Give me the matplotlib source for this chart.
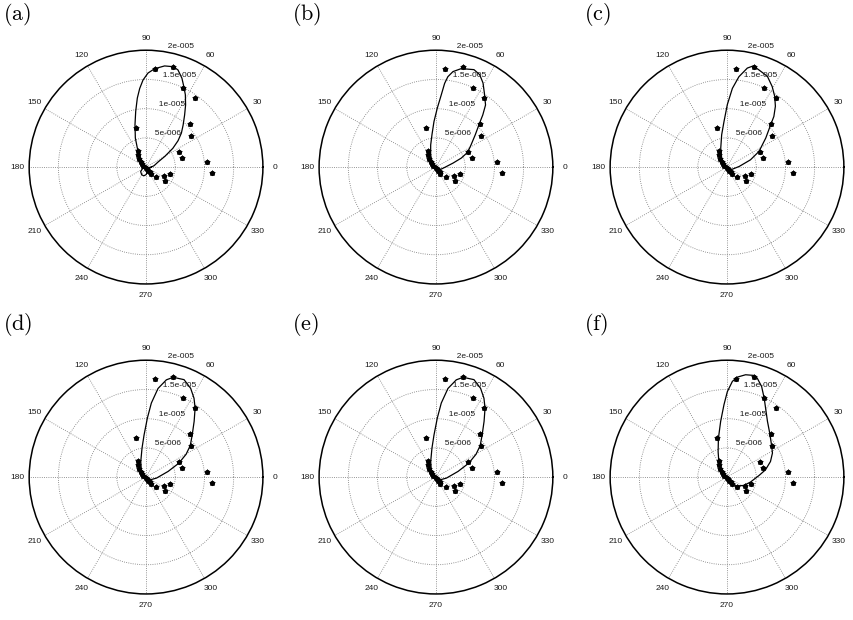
import numpy as np
import matplotlib.pyplot as plt

plt.rcParams['mathtext.fontset'] = 'cm'

# measured points (same in every panel): angle in degrees, radius in units of 1e-6
pts_deg = [84.9, 74.9, 64.6, 54.8, 44.6, 34.6, 24.2, 14.2, 4.4, 354.8, 344.5,
           334.3, 324.3, 314.0, 104.7, 115.1, 123.3, 131.3, 138, 145, 155,
           300, 302, 304, 302, 250]
pts_r = [16.8, 17.8, 14.9, 14.4, 10.5, 9.4, 6.1, 6.3, 10.5, 11.4, 4.3,
         3.4, 4.0, 2.4, 6.95, 3.1, 2.4, 1.9, 1.2, 0.9, 0.55,
         0.4, 0.75, 1.1, 1.45, 0.15]

# model curves
a_deg = [0, 10, 22.6, 29.7, 35, 39.5, 43.9, 48.6, 53.5, 57.5, 61.5, 64.8, 68, 71.8,
         74.8, 79.6, 85, 88.8, 92, 94.6, 97.2, 100.5, 104.6, 110.2, 114.5, 120.7,
         127, 140, 170, 200, 220, 240, 255, 270, 290, 310, 330, 350]
a_r = [0.9, 1.4, 2.2, 3.7, 5.6, 7.1, 8.4, 9.6, 11.1, 12.6, 14.1, 15.2, 16.4, 17.5,
       17.8, 17.6, 16.9, 16.1, 14.9, 13.5, 11.9, 9.7, 7.5, 5.3, 3.6, 2.1,
       0.85, 0.3, 0.1, 0.6, 1.2, 1.5, 1.55, 1.3, 0.8, 0.3, 0.2, 0.5]

b_deg = [-36, -2, 13.2, 19.6, 25.1, 32.3, 39.4, 45, 48.1, 51.4, 56.7, 60.8, 64.7,
         68.7, 75.6, 79.9, 82.5, 84.1, 85.8, 88.7, 92.5, 97, 103.4, 113.4, 125, 153]
b_r = [0.8, 1.5, 3.0, 4.6, 6.0, 7.1, 8.7, 10.5, 12.0, 13.6, 15.1, 16.5, 17.5,
       17.9, 17.4, 16.6, 15.6, 14.4, 12.4, 10.1, 7.8, 5.6, 3.9, 2.3, 1.2, 0.26]

c_deg = [-36, 3.2, 17.2, 26.1, 36.9, 44.1, 47.2, 51.5, 56, 60.7, 66, 71.8, 75.4,
         78.4, 82.5, 86.1, 89.7, 93.8, 99.4, 108.4, 120.7, 142]
c_r = [0.8, 2.1, 4.2, 6.1, 8.3, 10.4, 11.8, 13.3, 14.6, 15.8, 17.0, 17.5, 17.9,
       17.3, 15.6, 13.5, 10.7, 7.8, 5.6, 3.4, 1.8, 0.65]

d_deg = [-51, -5.5, 14.4, 23, 29.7, 35.5, 42.4, 49.2, 54.6, 58.7, 63.3, 68.7, 74.8,
         78.2, 82.3, 85.9, 88.7, 92.7, 97.9, 108.8, 122.5, 150]
d_r = [0.7, 1.8, 3.9, 6.1, 7.9, 9.3, 10.7, 12.6, 14.5, 15.8, 17.0, 17.9, 17.7,
       17.0, 15.3, 12.7, 10.1, 7.2, 5.0, 2.8, 1.5, 0.46]

e_deg = [-51, -5.5, 14.4, 23, 29.7, 35.5, 42.4, 49.2, 54.6, 58.7, 63.3, 68.7, 74.8,
         78.2, 82.3, 85.9, 88.7, 92.7, 97.9, 108.8, 122.5, 150]
e_r = [0.7, 1.8, 3.9, 6.1, 7.9, 9.3, 10.7, 12.6, 14.5, 15.8, 17.0, 17.9, 17.7,
       17.0, 15.3, 12.7, 10.1, 7.2, 5.0, 2.8, 1.5, 0.46]

f_deg = [-61, -43.6, -26.6, -12, 3, 10.7, 19.7, 27.9, 35.9, 45.9, 54.1, 60.7, 64.7,
         69.1, 73, 75.1, 79.7, 84.1, 86.8, 89.8, 92.4, 96.5, 102.5, 109.3, 119.7,
         133, 140]
f_r = [0.7, 2.2, 3.2, 4.1, 5.5, 6.7, 7.9, 8.8, 9.4, 10.5, 11.8, 13.5, 14.9,
       16.6, 17.7, 18.0, 17.8, 17.2, 16.4, 14.6, 12.4, 9.6, 6.8, 4.6, 2.8,
       1.3, 0.4]

panel_names = ['(a)', '(b)', '(c)', '(d)', '(e)', '(f)']
curves = [(a_deg, a_r), (b_deg, b_r), (c_deg, c_r),
          (d_deg, d_r), (e_deg, e_r), (f_deg, f_r)]

r_ticks = [5e-6, 1e-5, 1.5e-5, 2e-5]
r_tick_labels = ['5e-006', '1e-005', '1.5e-005', '2e-005']
angle_ticks = list(range(0, 360, 30))

rmax = 2e-5
fs = 6.0
lab_font = 'Liberation Sans'

fig = plt.figure(figsize=(8.54, 6.2), dpi=100)
lefts = [0.034, 0.3735, 0.7143]
bottoms = [0.542, 0.042]
w, h = 0.274, 0.377

for i, (th, rr) in enumerate(curves):
    ax = fig.add_axes([lefts[i % 3], bottoms[i // 3], w, h], projection='polar')
    ax.set_ylim(0, rmax)
    ax.set_yticks(r_ticks[:-1])
    ax.set_yticklabels([])
    ax.set_xticks(np.deg2rad(angle_ticks))
    ax.set_xticklabels([])
    ax.grid(True, linestyle=':', color='0.45', linewidth=0.6)
    ax.spines['polar'].set_linewidth(1.1)
    ax.tick_params(length=0)

    # closed model curve
    t = np.deg2rad(list(th) + [th[0]])
    r = np.array(list(rr) + [rr[0]]) * 1e-6
    ax.plot(t, r, color='k', lw=0.9)

    # measured points
    pt = np.deg2rad(pts_deg)
    pr = np.array(pts_r) * 1e-6
    ax.plot(pt, pr, ls='none', marker='o', ms=3.7, mew=0, color='k')
    ax.plot(pt, pr, ls='none', marker='*', ms=4.0, mew=0.4, color='k')

    # radial labels like matlab polar (at 82 deg)
    for v, lab in zip(r_ticks, r_tick_labels):
        ax.text(np.deg2rad(82), v + rmax / 80, '  ' + lab, ha='left', va='bottom',
                fontsize=fs, family=lab_font, color='0.1')
    for a in angle_ticks:
        if a == 0 and i % 3 == 2:
            continue  # falls off the right edge in the original
        ax.text(np.deg2rad(a), 1.1 * rmax, str(a), ha='center', va='center',
                fontsize=fs, family=lab_font, color='0.1')

    fig.text(lefts[i % 3] - 0.031, bottoms[i // 3] + h + 0.058,
             r'$\mathrm{' + panel_names[i] + '}$', fontsize=16,
             ha='left', va='center')

fig.savefig('out.png', dpi=100)
